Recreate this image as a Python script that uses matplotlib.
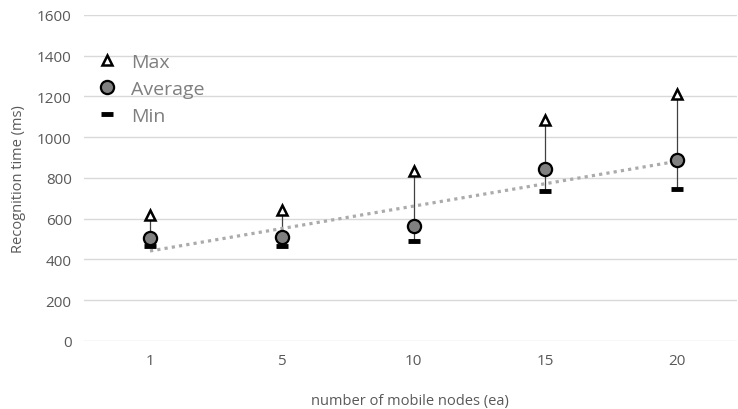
import numpy as np
import matplotlib
matplotlib.use('Agg')
import matplotlib.pyplot as plt

# data
nodes = ['1', '5', '10', '15', '20']
maxTime = [618, 643, 834, 1085, 1212]
avgTime = [505, 508, 565, 843, 888]
minTime = [468, 468, 490, 736, 745]

plt.rcParams['font.family'] = ['Open Sans', 'DejaVu Sans']
textColor = '#595959'

fig = plt.figure(figsize=(7.38, 4.10), dpi=100)
ax = fig.add_axes([0.114, 0.166, 0.884, 0.795])

x = np.arange(len(nodes))

# min-max lines
ax.vlines(x, minTime, maxTime, color='#404040', lw=0.9, zorder=2)

# linear trendline of the average
k, b = np.polyfit(x, avgTime, 1)
ax.plot(x, k * x + b, color='#ababab', lw=2.3, ls=(0, (1, 1.3)), zorder=3)

ax.plot(x, maxTime, ls='none', marker='^', ms=7.5, mfc='white', mec='black', mew=1.8,
        label='Max', zorder=4)
ax.plot(x, avgTime, ls='none', marker='o', ms=9.5, mfc='#808080', mec='black', mew=1.6,
        label='Average', zorder=4)
ax.plot(x, minTime, ls='none', marker='_', ms=9, mec='black', mew=3.5,
        label='Min', zorder=4)

ax.set_ylim(0, 1600)
ax.set_yticks(range(0, 1601, 200))
ax.set_xlim(-0.5, 4.45)
ax.set_xticks(x)
ax.set_xticklabels(nodes)
ax.grid(axis='y', color='#d9d9d9', lw=1)
ax.set_axisbelow(True)
for s in ax.spines.values():
    s.set_visible(False)
ax.tick_params(length=0, labelsize=11, colors=textColor, pad=9)

ax.set_xlabel('number of mobile nodes (ea)', fontsize=10.5, color=textColor, labelpad=18)
ax.set_ylabel('Recognition time (ms)', fontsize=10.5, color=textColor, labelpad=8)

leg = ax.legend(loc='upper left', bbox_to_anchor=(0.0, 0.925), frameon=False, fontsize=14,
                handlelength=1.0, handletextpad=0.7, labelspacing=0.45, borderaxespad=0.3)
for t in leg.get_texts():
    t.set_color('#7f7f7f')

fig.savefig('out.png', dpi=100)
